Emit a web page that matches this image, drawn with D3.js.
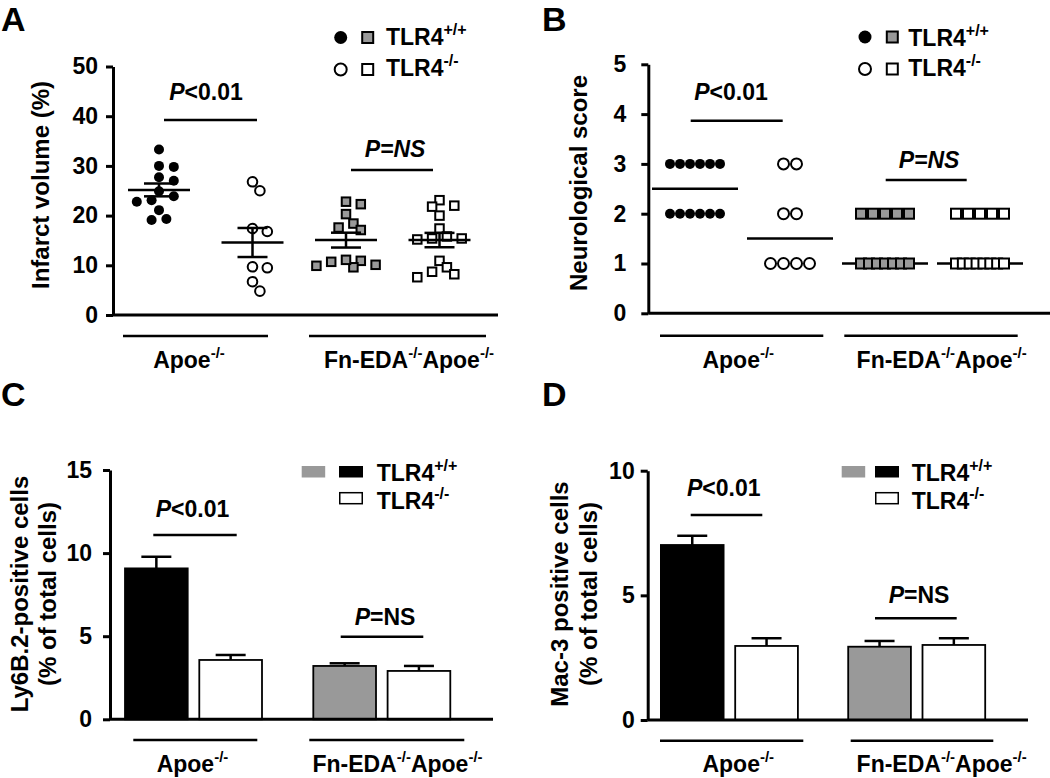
<!DOCTYPE html>
<html><head><meta charset="utf-8">
<script src="https://cdn.jsdelivr.net/npm/d3@7"></script>
<style>
body{margin:0;background:#fff}
text{font-family:"Liberation Sans",Arial,Helvetica,sans-serif;font-weight:bold;fill:#000}
</style>
</head><body>
<svg id="chart" width="1050" height="778"></svg>
<script>
// ---------------- data ----------------
const groupNames = ["Apoe-/-", "Fn-EDA-/-Apoe-/-"];
const genotypeNames = ["TLR4+/+", "TLR4-/-"];
const subgroupKeys = ["apoeWT", "apoeKO", "fnWT", "fnKO"];

// Panel A: infarct volume (%) per animal
const infarctApoeWT = [33.3, 29.8, 30.0, 27.0, 27.7, 24.9, 23.1, 22.8, 23.9, 21.1, 19.1, 19.3];
const infarctApoeKO = [26.8, 25.0, 16.8, 17.4, 9.7, 9.5, 6.7, 4.8];
const infarctFnWT   = [22.8, 22.3, 20.3, 17.6, 18.4, 17.1, 10.9, 10.1, 9.6, 9.9, 10.7, 11.1];
const infarctFnKO   = [23.1, 21.8, 22.0, 20.0, 17.4, 15.8, 15.4, 15.4, 15.2, 10.9, 9.6, 8.7, 7.6, 8.2];

// Panel B: neurological score per animal
const neuroApoeWT = [3, 3, 3, 3, 3, 3, 2, 2, 2, 2, 2, 2];
const neuroApoeKO = [3, 3, 2, 2, 1, 1, 1, 1];
const neuroFnWT   = [2, 2, 2, 2, 2, 1, 1, 1, 1, 1, 1, 1];
const neuroFnKO   = [2, 2, 2, 2, 2, 1, 1, 1, 1, 1, 1, 1, 1];

// Panel C: Ly6B.2-positive cells (% of total), mean and SEM
const ly6bMean = [9.08, 3.57, 3.21, 2.91];
const ly6bSem  = [0.70, 0.30, 0.16, 0.30];

// Panel D: Mac-3 positive cells (% of total), mean and SEM
const mac3Mean = [7.02, 2.97, 2.94, 3.01];
const mac3Sem  = [0.37, 0.31, 0.23, 0.27];

const ticksA = [0, 10, 20, 30, 40, 50];
const ticksB = [0, 1, 2, 3, 4, 5];
const ticksC = [0, 5, 10, 15];
const ticksD = [0, 5, 10];

const pLabels = ["P<0.01", "P=NS"];
const titleA = ["Infarct volume (%)"];
const titleB = ["Neurological score"];
const titleC = ["Ly6B.2-positive cells", "(% of total cells)"];
const titleD = ["Mac-3 positive cells", "(% of total cells)"];
const panelLetters = ["A", "B", "C", "D"];

// ---------------- helpers ----------------
const svg = d3.select("#chart");
const GRAY = "#999999";
const FONT = '"Liberation Sans",Arial,Helvetica,sans-serif';

function rich(textSel, str, size, supSize) {
  const parts = str.split(/(\+\/\+|-\/-)/).filter(s => s.length);
  let raised = false;
  parts.forEach(p => {
    const isSup = (p === "+/+" || p === "-/-");
    const t = textSel.append("tspan").text(p);
    if (isSup) {
      t.attr("font-size", supSize);
      if (!raised) { t.attr("dy", -size * 0.42); raised = true; }
    } else {
      t.attr("font-size", size);
      if (raised) { t.attr("dy", size * 0.42); raised = false; }
    }
  });
  return textSel;
}

function pText(x, y, str, allItalic) {
  const t = svg.append("text").attr("x", x).attr("y", y).attr("text-anchor", "middle").attr("font-size", 23);
  t.append("tspan").attr("font-style", "italic").text(str[0]);
  t.append("tspan").attr("font-style", allItalic ? "italic" : "normal").text(str.slice(1));
}

function hline(x1, x2, y, w) {
  svg.append("line").attr("x1", x1).attr("x2", x2).attr("y1", y).attr("y2", y)
    .attr("stroke", "#000").attr("stroke-width", w || 2.5);
}

function yAxis(scale, ticks, x, pad) {
  const ax = d3.axisLeft(scale).tickValues(ticks).tickSize(7).tickSizeOuter(0)
    .tickPadding(pad).tickFormat(d3.format("d"));
  const g = svg.append("g").attr("transform", `translate(${x},0)`).call(ax);
  g.attr("font-size", 23).attr("font-family", FONT).attr("font-weight", "bold");
  g.select(".domain").attr("stroke-width", 3).attr("stroke", "#000");
  g.selectAll(".tick line").attr("stroke-width", 3).attr("stroke", "#000");
  g.selectAll(".tick text").attr("fill", "#000");
  return g;
}

function yTitle(lines, xs, cy) {
  lines.forEach((s, i) => {
    svg.append("text").attr("transform", `translate(${xs[i]},${cy}) rotate(-90)`)
      .attr("text-anchor", "middle").attr("font-size", 24).text(s);
  });
}

function groupLabels(lines, y, labelXs, labelY) {
  lines.forEach(l => hline(l[0], l[1], y, 2.5));
  groupNames.forEach((g, i) => {
    const t = svg.append("text").attr("x", labelXs[i]).attr("y", labelY).attr("text-anchor", "middle");
    rich(t, g, 23, 15);
  });
}

function letter(s, x, y) {
  svg.append("text").attr("x", x).attr("y", y).attr("font-size", 34).text(s);
}

function swarm(values, y, step, minD) {
  const order = d3.range(values.length).sort((a, b) => values[b] - values[a]);
  const placed = [];
  const off = new Array(values.length);
  order.forEach(i => {
    const yi = y(values[i]);
    for (let k = 0; k < 60; k++) {
      const c = k === 0 ? 0 : (k % 2 ? Math.ceil(k / 2) * step : -Math.ceil(k / 2) * step);
      if (placed.every(p => Math.hypot(p.x - c, p.y - yi) >= minD)) {
        off[i] = c; placed.push({x: c, y: yi}); break;
      }
    }
  });
  return off;
}

function rows(values, size, maxW) {
  const off = new Array(values.length);
  d3.group(d3.range(values.length), i => values[i]).forEach(idx => {
    const n = idx.length;
    const step = n > 1 ? Math.min(size, (maxW - size) / (n - 1)) : 0;
    idx.forEach((i, j) => { off[i] = (j - (n - 1) / 2) * step; });
  });
  return off;
}

function symbol(kind, x, y, s) {
  // kind: 0 filled circle, 1 open circle, 2 gray square, 3 open square
  if (kind === 0) {
    svg.append("circle").attr("cx", x).attr("cy", y).attr("r", s.r).attr("fill", "#000");
  } else if (kind === 1) {
    svg.append("circle").attr("cx", x).attr("cy", y).attr("r", s.ro)
      .attr("fill", "#fff").attr("stroke", "#000").attr("stroke-width", 2);
  } else {
    svg.append("rect").attr("x", x - s.sq / 2).attr("y", y - s.sq / 2)
      .attr("width", s.sq).attr("height", s.sq)
      .attr("fill", kind === 2 ? GRAY : "#fff").attr("stroke", "#000").attr("stroke-width", 2);
  }
}

function scatterLegend(cx, sx, tx, y1, y2, t1, t2) {
  svg.append("circle").attr("cx", cx).attr("cy", y1).attr("r", 6.5).attr("fill", "#000");
  svg.append("rect").attr("x", sx - 5.5).attr("y", y1 - 5.5).attr("width", 11).attr("height", 11)
    .attr("fill", GRAY).attr("stroke", "#000").attr("stroke-width", 2);
  svg.append("circle").attr("cx", cx).attr("cy", y2).attr("r", 6).attr("fill", "#fff")
    .attr("stroke", "#000").attr("stroke-width", 2);
  svg.append("rect").attr("x", sx - 5.5).attr("y", y2 - 5.5).attr("width", 11).attr("height", 11)
    .attr("fill", "#fff").attr("stroke", "#000").attr("stroke-width", 2);
  rich(svg.append("text").attr("x", tx).attr("y", t1), genotypeNames[0], 23, 16);
  rich(svg.append("text").attr("x", tx).attr("y", t2), genotypeNames[1], 23, 16);
}

function barLegend(gx, bx, tx, y1, y2, t1, t2) {
  svg.append("rect").attr("x", gx).attr("y", y1).attr("width", 23.5).attr("height", 11.5).attr("fill", GRAY);
  svg.append("rect").attr("x", bx).attr("y", y1).attr("width", 24).attr("height", 11.5).attr("fill", "#000");
  svg.append("rect").attr("x", bx + 0.75).attr("y", y2).attr("width", 22.5).attr("height", 11)
    .attr("fill", "#fff").attr("stroke", "#000").attr("stroke-width", 1.5);
  rich(svg.append("text").attr("x", tx).attr("y", t1), genotypeNames[0], 23, 16);
  rich(svg.append("text").attr("x", tx).attr("y", t2), genotypeNames[1], 23, 16);
}

// ---------------- Panel A ----------------
(function () {
  const y = d3.scaleLinear().domain([0, 50]).range([315, 66.5]);
  const x = d3.scalePoint().domain(subgroupKeys).range([159, 439.5]);
  const data = [infarctApoeWT, infarctApoeKO, infarctFnWT, infarctFnKO];
  const sz = {r: 5, ro: 4.8, sq: 8.5};
  data.forEach((vals, k) => {
    const off = swarm(vals, y, 7.4, k < 2 ? 9.6 : 9.8);
    vals.forEach((v, i) => symbol(k, x(subgroupKeys[k]) + off[i], y(v), sz));
  });
  data.forEach((vals, k) => {
    const cx = x(subgroupKeys[k]);
    const m = d3.mean(vals), sem = d3.deviation(vals) / Math.sqrt(vals.length);
    hline(cx - 31, cx + 31, y(m), 2.5);
    hline(cx - 15, cx + 15, y(m + sem), 2.5);
    hline(cx - 15, cx + 15, y(m - sem), 2.5);
    svg.append("line").attr("x1", cx).attr("x2", cx).attr("y1", y(m + sem)).attr("y2", y(m - sem))
      .attr("stroke", "#000").attr("stroke-width", 2.5);
  });
  yAxis(y, ticksA, 113, 8);
  hline(113, 498, 315, 3);
  yTitle(titleA, [49], 185);
  hline(164, 257, 120); pText(206, 100, pLabels[0], false);
  hline(351, 433, 170); pText(395, 157, pLabels[1], true);
  groupLabels([[123, 268], [309, 486]], 336, [189, 409], 368);
  scatterLegend(340.7, 367.7, 386, 37.5, 69.5, 44.5, 75.5);
  letter(panelLetters[0], 1, 31);
})();

// ---------------- Panel B ----------------
(function () {
  const y = d3.scaleLinear().domain([0, 5]).range([313.3, 64.3]);
  const x = d3.scalePoint().domain(subgroupKeys).range([695, 980]);
  const data = [neuroApoeWT, neuroApoeKO, neuroFnWT, neuroFnKO];
  const sizes = [10, 13, 12, 12];
  const sz = {r: 5, ro: 5.5, sq: 10};
  data.forEach((vals, k) => {
    const cx = x(subgroupKeys[k]);
    const med = d3.median(vals);
    hline(cx - 43, cx + 43, y(med), 2.5);
  });
  data.forEach((vals, k) => {
    const off = rows(vals, sizes[k], 60);
    vals.forEach((v, i) => symbol(k, x(subgroupKeys[k]) + off[i], y(v), sz));
  });
  yAxis(y, ticksB, 648.3, 15);
  hline(648.3, 1050, 313.3, 3);
  yTitle(titleB, [587], 183);
  hline(690.7, 782.7, 120.7); pText(731, 100, pLabels[0], false);
  hline(885.7, 966.7, 180); pText(929, 168, pLabels[1], true);
  groupLabels([[660, 823.3], [844.3, 1017.7]], 335.7, [738.3, 941.7], 368);
  scatterLegend(865, 892.3, 908.3, 37, 69, 45.7, 75.5);
  letter(panelLetters[1], 542, 31);
})();

// ---------------- bar panels ----------------
function barPanel(means, sems, y, groupRange) {
  const xg = d3.scalePoint().domain(groupNames).range(groupRange);
  const xi = d3.scaleBand().domain(genotypeNames).range([-68.5, 68.5]).paddingInner(0.156);
  const fills = ["#000", "#fff", GRAY, "#fff"];
  means.forEach((m, k) => {
    const g = groupNames[Math.floor(k / 2)], gt = genotypeNames[k % 2];
    const x0 = xg(g) + xi(gt), w = xi.bandwidth(), cx = x0 + w / 2;
    svg.append("line").attr("x1", cx).attr("x2", cx).attr("y1", y(m)).attr("y2", y(m + sems[k]))
      .attr("stroke", "#000").attr("stroke-width", 2.5);
    hline(cx - 15, cx + 15, y(m + sems[k]), 2.5);
    svg.append("rect").attr("x", x0).attr("y", y(m)).attr("width", w).attr("height", y(0) - y(m))
      .attr("fill", fills[k]).attr("stroke", "#000").attr("stroke-width", 1.8);
  });
}

// ---------------- Panel C ----------------
(function () {
  const y = d3.scaleLinear().domain([0, 15]).range([719.3, 470]);
  barPanel(ly6bMean, ly6bSem, y, [193.5, 381.8]);
  yAxis(y, ticksC, 110, 11);
  hline(110, 493, 719.3, 3);
  yTitle(titleC, [28, 56], 594);
  hline(153.3, 236.7, 535); pText(192.5, 516.5, pLabels[0], false);
  hline(340.7, 423.3, 636.7); pText(385, 625, pLabels[1], false);
  groupLabels([[133.3, 257.3], [309.3, 464.3]], 740, [192.5, 397.5], 772);
  barLegend(301.7, 339, 376.7, 466, 492.7, 481, 509);
  letter(panelLetters[2], 1, 406);
})();

// ---------------- Panel D ----------------
(function () {
  const y = d3.scaleLinear().domain([0, 10]).range([720, 470.7]);
  barPanel(mac3Mean, mac3Sem, y, [729.4, 916.7]);
  yAxis(y, ticksD, 647.7, 6);
  hline(647.7, 1028, 720, 3);
  yTitle(titleD, [568, 597], 594);
  hline(690.7, 762.3, 515); pText(723.7, 496, pLabels[0], false);
  hline(875, 956.7, 618.3); pText(919, 603.3, pLabels[1], false);
  groupLabels([[660, 803.3], [850.7, 993.3]], 740.7, [738.3, 941.7], 772);
  barLegend(841.7, 875, 911.7, 466, 492.7, 481, 509);
  letter(panelLetters[3], 542, 406);
})();
</script>
</body></html>
